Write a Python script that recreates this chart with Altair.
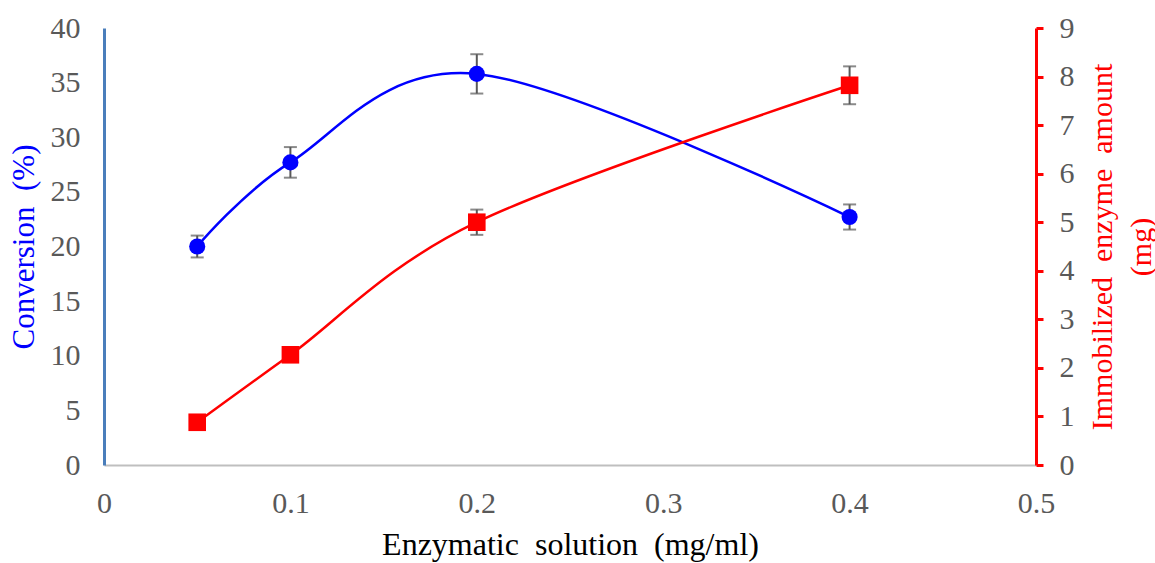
import altair as alt
import pandas as pd

# ---- data ----
x_vals = [0.05, 0.1, 0.2, 0.4]
conversion = [20.0, 27.7, 35.8, 22.7]
conversion_err = [1.0, 1.4, 1.8, 1.15]
enzyme = [0.88, 2.27, 5.0, 7.82]
enzyme_err = [0.0, 0.0, 0.26, 0.39]

x_ticks = [0, 0.1, 0.2, 0.3, 0.4, 0.5]
left_ticks = list(range(0, 45, 5))
right_ticks = list(range(0, 10))

blue = pd.DataFrame({"x": x_vals, "y": conversion,
                     "lo": [v - e for v, e in zip(conversion, conversion_err)],
                     "hi": [v + e for v, e in zip(conversion, conversion_err)],
                     "err": conversion_err})
red = pd.DataFrame({"x": x_vals, "y": enzyme,
                    "lo": [v - e for v, e in zip(enzyme, enzyme_err)],
                    "hi": [v + e for v, e in zip(enzyme, enzyme_err)],
                    "err": enzyme_err})

FONT = "Liberation Serif"
GREY = "#595959"
BLUE = "#0000FF"
RED = "#FF0000"
SP = " \u00a0"  # wide word gap as in the reference

x_enc = alt.X("x:Q",
              scale=alt.Scale(domain=[0, 0.5], nice=False, zero=False),
              axis=alt.Axis(values=x_ticks, format=".1~f",
                            title=f"Enzymatic{SP}solution{SP}(mg/ml)",
                            ticks=False, domainColor="#BFBFBF", domainWidth=2,
                            labelFontSize=30, labelPadding=23, labelFlush=False,
                            titleFontSize=32, titlePadding=11, titleColor="#000000",
                            labelColor=GREY))

yl_scale = alt.Scale(domain=[0, 40], nice=False)
yr_scale = alt.Scale(domain=[0, 9], nice=False)

yl_axis = alt.Axis(values=left_ticks, title=f"Conversion{SP}(%)", ticks=False,
                   domainColor="#4A7EBB", domainWidth=3, labelFontSize=30,
                   labelPadding=24, titleFontSize=31, titleColor=BLUE, titlePadding=10,
                   labelColor=GREY)
yr_axis = alt.Axis(values=right_ticks, orient="right",
                   title=[f"Immobilized{SP}enzyme{SP}amount", "(mg)"], ticks=True,
                   tickColor=RED, tickWidth=3, tickSize=7,
                   domainColor=RED, domainWidth=3, labelFontSize=30,
                   labelPadding=16, titleFontSize=30, titleColor=RED,
                   titleAngle=-90, titlePadding=4, labelColor=GREY,
                   titleLineHeight=39)

# ---- left (conversion) ----
b_base = alt.Chart(blue)
b_rule = b_base.mark_rule(color=GREY, strokeWidth=2).encode(
    x=x_enc, y=alt.Y("lo:Q", scale=yl_scale, axis=yl_axis), y2="hi:Q")
b_cap_lo = b_base.mark_tick(orient="horizontal", size=13, thickness=2, color=GREY).encode(
    x=x_enc, y=alt.Y("lo:Q", scale=yl_scale))
b_cap_hi = b_base.mark_tick(orient="horizontal", size=13, thickness=2, color=GREY).encode(
    x=x_enc, y=alt.Y("hi:Q", scale=yl_scale))
b_line = b_base.mark_line(color=BLUE, strokeWidth=2.5, interpolate="cardinal").encode(
    x=x_enc, y=alt.Y("y:Q", scale=yl_scale))
b_pts = b_base.mark_point(shape="circle", filled=True, opacity=1, size=260, color=BLUE).encode(
    x=x_enc, y=alt.Y("y:Q", scale=yl_scale))
left = alt.layer(b_rule, b_cap_lo, b_cap_hi, b_line, b_pts)

# ---- right (immobilized enzyme) ----
r_base = alt.Chart(red)
r_err = r_base.transform_filter("datum.err > 0")
r_rule = r_err.mark_rule(color=GREY, strokeWidth=2).encode(
    x=x_enc, y=alt.Y("lo:Q", scale=yr_scale, axis=yr_axis), y2="hi:Q")
r_cap_lo = r_err.mark_tick(orient="horizontal", size=13, thickness=2, color=GREY).encode(
    x=x_enc, y=alt.Y("lo:Q", scale=yr_scale))
r_cap_hi = r_err.mark_tick(orient="horizontal", size=13, thickness=2, color=GREY).encode(
    x=x_enc, y=alt.Y("hi:Q", scale=yr_scale))
r_line = r_base.mark_line(color=RED, strokeWidth=2.5, interpolate="cardinal").encode(
    x=x_enc, y=alt.Y("y:Q", scale=yr_scale))
r_pts = r_base.mark_point(shape="square", filled=True, opacity=1, size=310, color=RED).encode(
    x=x_enc, y=alt.Y("y:Q", scale=yr_scale))
right = alt.layer(r_rule, r_cap_lo, r_cap_hi, r_line, r_pts)

chart = alt.layer(left, right).resolve_scale(y="independent").properties(
    width=932, height=437,
    autosize=alt.AutoSizeParams(type="none"),
    padding={"left": 104, "top": 28, "right": 119, "bottom": 98},
    background="white",
).configure_view(stroke=None).configure_axis(
    grid=False, labelFont=FONT, titleFont=FONT, titleFontWeight="normal"
)

chart.save("out.html", embed_options={"renderer": "svg", "actions": False})
